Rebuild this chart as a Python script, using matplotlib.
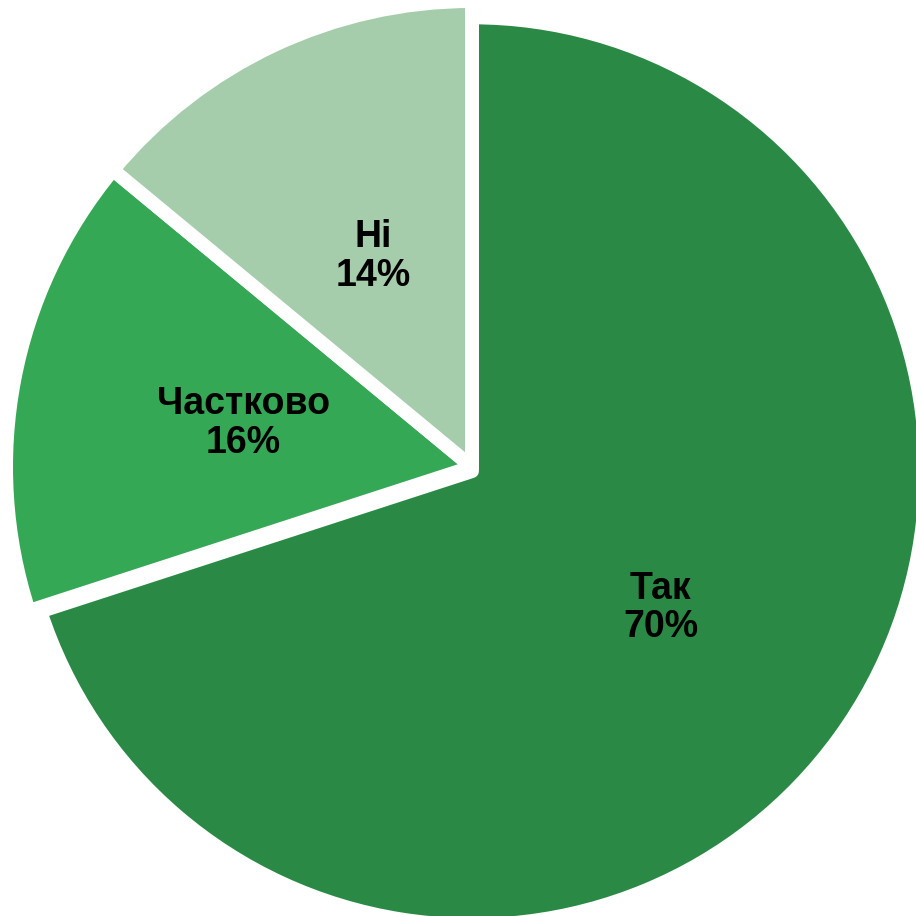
import numpy as np
import matplotlib.pyplot as plt

labels = ["Так", "Частково", "Ні"]
values = [70, 16, 14]
colors = ["#2A8A45", "#35A856", "#A6CDAB"]
radii = [0.974, 1.0, 1.0]  # the big slice is drawn a bit smaller
shift_y = [-0.009, 0, 0]   # and sits a little lower

fig = plt.figure(figsize=(9.16, 9.16), dpi=100)
ax = fig.add_axes([0, 0, 1, 1])

wedges, texts = ax.pie(
    values,
    colors=colors,
    startangle=90,
    counterclock=False,
    radius=1,
    wedgeprops={'edgecolor': 'white', 'linewidth': 10, 'joinstyle': 'round'},
)

# labels in the middle of each slice
for w, r, dy, lab, v in zip(wedges, radii, shift_y, labels, values):
    w.set_radius(r)
    cx, cy = w.center
    w.set_center((cx, cy + dy))
    ang = np.deg2rad((w.theta1 + w.theta2) / 2)
    ax.text(cx + 0.5 * np.cos(ang), cy + dy + 0.5 * np.sin(ang), f"{lab}\n{v}%",
            ha='center', va='center', fontsize=27, fontweight='bold',
            family='Liberation Sans', color='black', linespacing=1.1)

ax.set_xlim(-1.013, 0.953)
ax.set_ylim(-0.9635, 1.002)
ax.set_aspect('equal')
ax.axis('off')

fig.savefig("out.png", dpi=100, facecolor='white')
